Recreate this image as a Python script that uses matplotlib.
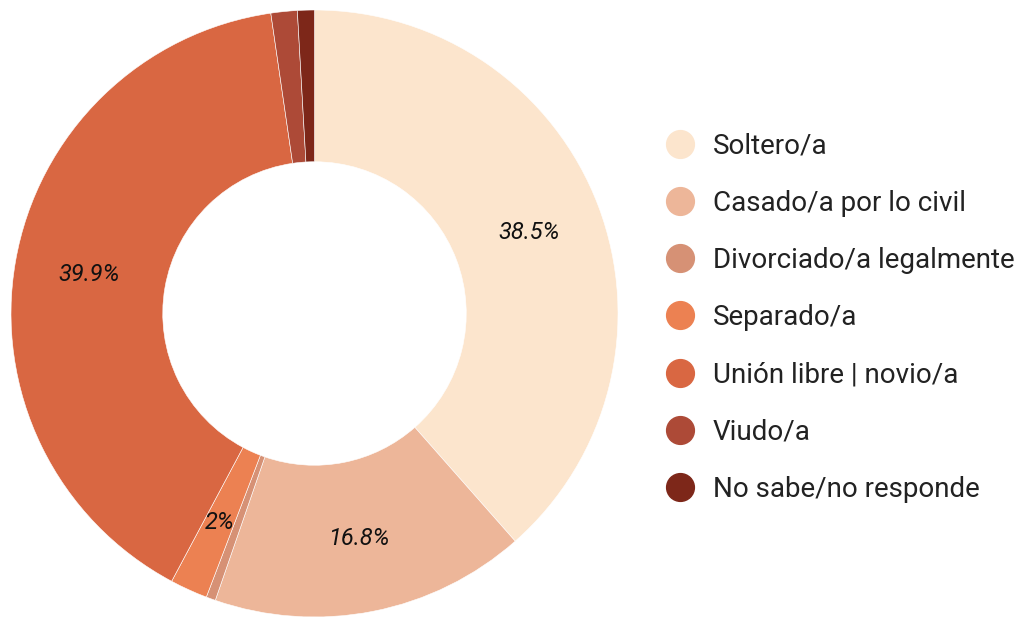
import matplotlib.pyplot as plt
from matplotlib.lines import Line2D

plt.rcParams['font.family'] = ['Roboto', 'DejaVu Sans']

# datos
categorias = ["Soltero/a", "Casado/a por lo civil", "Divorciado/a legalmente",
              "Separado/a", "Unión libre | novio/a", "Viudo/a", "No sabe/no responde"]
porcentajes = [38.5, 16.8, 0.5, 2.0, 39.9, 1.4, 0.9]
colores = ["#FCE5CD", "#EDB699", "#D69175", "#EC8152", "#D96742", "#AD4A37", "#7D2719"]

fig = plt.figure(figsize=(10.21, 6.18), dpi=100)
ax = fig.add_axes([11 / 1021, 1 / 618, 607 / 1021, 607 / 618])

def etiqueta(p):
    if p < 1.9:
        return ""
    return f"{p:.1f}%" if round(p, 1) != round(p) else f"{p:.0f}%"

wedges, textos, autotextos = ax.pie(
    porcentajes, colors=colores, startangle=90, counterclock=False,
    radius=1, wedgeprops=dict(width=0.5, edgecolor="white", linewidth=0.4),
    autopct=etiqueta, pctdistance=0.755,
    textprops=dict(fontsize=17, fontstyle="italic", color="#111111"))
ax.set_xlim(-1, 1)
ax.set_ylim(-1, 1)
ax.set_aspect("equal")

handles = [Line2D([0], [0], marker="o", linestyle="", markersize=20,
                  markerfacecolor=c, markeredgecolor=c) for c in colores]
fig.legend(handles, categorias, loc="center left", bbox_to_anchor=(641 / 1021, 0.486),
           frameon=False, fontsize=20, labelspacing=1.09, handletextpad=0.68,
           handlelength=1.0, labelcolor="#222222")

fig.savefig("out.png", dpi=100)
